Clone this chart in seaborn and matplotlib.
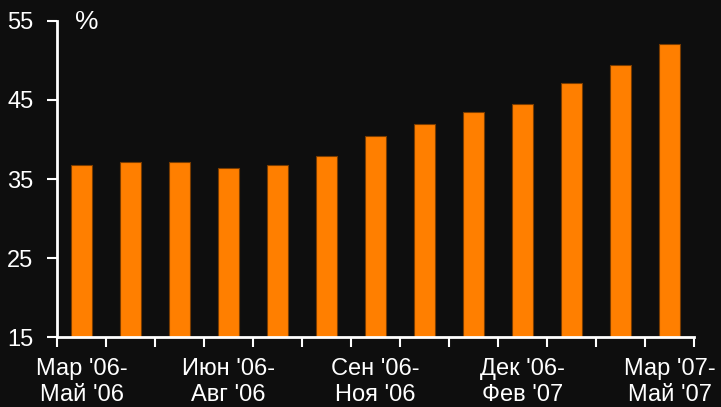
import matplotlib
matplotlib.use("Agg")
import matplotlib.pyplot as plt
import seaborn as sns
import pandas as pd
import numpy as np

periods = ["Мар '06-Май '06", "Апр '06-Июн '06", "Май '06-Июл '06",
           "Июн '06-Авг '06", "Июл '06-Сен '06", "Авг '06-Окт '06",
           "Сен '06-Ноя '06", "Окт '06-Дек '06", "Ноя '06-Янв '07",
           "Дек '06-Фев '07", "Янв '07-Мар '07", "Фев '07-Апр '07",
           "Мар '07-Май '07"]
values = [36.8, 37.2, 37.2, 36.4, 36.75, 37.85, 40.4, 42.0, 43.45, 44.5, 47.1, 49.4, 52.1]
tick_labels = ["Мар '06-\nМай '06", "Июн '06-\nАвг '06", "Сен '06-\nНоя '06",
               "Дек '06-\nФев '07", "Мар '07-\nМай '07"]
tick_positions = [0, 3, 6, 9, 12]
y_ticks = [15, 25, 35, 45, 55]

sns.set_theme(style="white")
plt.rcParams['font.family'] = ['Liberation Sans', 'DejaVu Sans']

bg = "#0e0e0e"
fig = plt.figure(figsize=(7.21, 4.07), dpi=100, facecolor=bg)
ax = fig.add_axes([57/721, 1-337.3/407, (694-57)/721, (337.3-20.7)/407])
ax.set_facecolor(bg)

df = pd.DataFrame({"period": periods, "value": values})
sns.barplot(data=df, x="period", y="value", order=periods, color="#ff7f00",
            saturation=1, width=0.41, edgecolor="#7a3c00", linewidth=0.8, ax=ax)

ax.set_xlim(-0.5, len(periods) - 0.5)
ax.set_ylim(15, 55)
ax.set_xlabel("")
ax.set_ylabel("")

for s in ["top", "right"]:
    ax.spines[s].set_visible(False)
for s in ["left", "bottom"]:
    ax.spines[s].set_color("white")
    ax.spines[s].set_linewidth(2)

ax.set_yticks(y_ticks)
ax.set_yticklabels([str(v) for v in y_ticks])
ax.tick_params(axis="y", colors="white", labelsize=17, length=7, width=1.5,
               direction="out", left=True, pad=10)

bounds = np.arange(-0.5, len(periods), 1.0)
ax.set_xticks(bounds)
ax.set_xticklabels([])
ax.tick_params(axis="x", which="major", colors="white", length=7, width=1.5,
               direction="out", bottom=True)
ax.set_xticks(tick_positions, minor=True)
ax.set_xticklabels(tick_labels, minor=True)
ax.tick_params(axis="x", which="minor", colors="white", labelsize=17, length=0,
               pad=15, bottom=True)

ax.text(0.046, 0.995, "%", transform=ax.transAxes, color="white", fontsize=19,
        ha="center", va="center")

fig.savefig("out.png", dpi=100, facecolor=bg)
